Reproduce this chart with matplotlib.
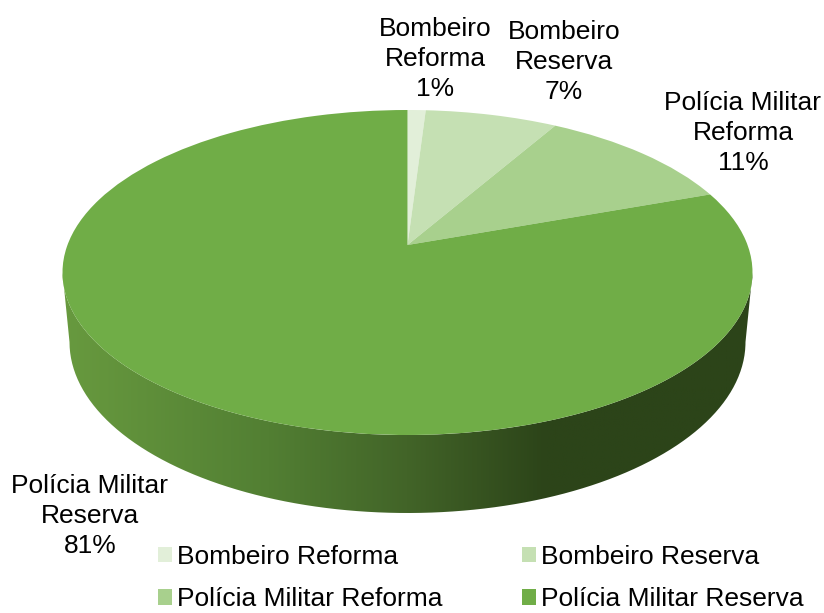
#!/usr/bin/env python
# Pie with a fake 3D look: ax.pie wedges pushed through a perspective transform,
# plus a gradient side wall clipped to the rim

import numpy as np
import matplotlib
matplotlib.use('Agg')
import matplotlib.pyplot as plt
from matplotlib.colors import LinearSegmentedColormap
from matplotlib.patches import PathPatch
from matplotlib.path import Path
from matplotlib.transforms import Transform

plt.rcParams['font.family'] = ['Liberation Sans', 'DejaVu Sans']

#-------------
# Data
#-------------
categories = ['Bombeiro Reforma', 'Bombeiro Reserva',
              'Polícia Militar Reforma', 'Polícia Militar Reserva']
# they round to the printed 1, 7, 11, 81
values = [1.0, 7.3, 11.2, 80.5]
slice_labels = ['Bombeiro\nReforma\n1%', 'Bombeiro\nReserva\n7%',
                'Polícia Militar\nReforma\n11%', 'Polícia Militar\nReserva\n81%']
slice_colors = ['#E2EFD9', '#C5E0B3', '#A8D08D', '#70AD47']

#-------------
# Layout (pixels of the 824x613 figure)
#-------------
cx = 407.5
cy = 272.5
half_h = 162.5
half_w = 345.0
apex_shift = 27.5
fsize = 19

label_xy = [(435, 59), (564, 62), (743, 133), (90, 516)]

# lower rim of the wall
wall_cy = 342.0
wall_rx = 338.0
wall_ry = 171.0


class TiltedDisc(Transform):
    # maps the unit circle to the top face ellipse, centre goes to the apex
    input_dims = 2
    output_dims = 2
    is_separable = False

    def transform_non_affine(self, values):
        xy = np.asarray(values, dtype=float)
        k = apex_shift / half_h
        a = half_w * np.sqrt(1 - k * k)
        den = 1 + k * xy[:, 1]
        return np.column_stack((cx + a * xy[:, 0] / den,
                                cy - (half_h * xy[:, 1] + apex_shift) / den))


fig = plt.figure(figsize=(8.24, 6.13), dpi=100)
ax = fig.add_axes([0, 0, 1, 1])

wedges, _ = ax.pie(values, colors=slice_colors, startangle=90, counterclock=False,
                   radius=1.0, wedgeprops={'linewidth': 0, 'zorder': 3})
ax.set_aspect('auto')
ax.axis('off')

disc = TiltedDisc() + ax.transData
for w in wedges:
    w.set_transform(disc)

# Side wall: gradient image clipped between top rim and lower rim
t = np.radians(np.linspace(0, 180, 200))
upper = np.column_stack((cx + half_w * np.cos(t), cy + half_h * np.sin(t)))
lower = np.column_stack((cx + wall_rx * np.cos(t), wall_cy + wall_ry * np.sin(t)))
wall_xy = np.vstack((upper, lower[::-1], upper[:1]))
wall = PathPatch(Path(wall_xy), facecolor='none', edgecolor='none', transform=ax.transData)
ax.add_patch(wall)

wall_cmap = LinearSegmentedColormap.from_list(
    'wall', [(0.0, '#689A3F'), (0.30, '#527F33'), (0.50, '#426428'),
             (0.70, '#2C4419'), (1.0, '#2C4419')])
img = ax.imshow(np.linspace(0, 1, 256).reshape(1, -1), cmap=wall_cmap, aspect='auto',
                extent=(60, 755, 520, 260), zorder=2)
img.set_clip_path(wall)
ax.set_xlim(0, 824)
ax.set_ylim(613, 0)

# Slice labels
for lab, (lx, ly) in zip(slice_labels, label_xy):
    ax.text(lx, ly, lab, ha='center', va='center', fontsize=fsize, color='black',
            linespacing=1.3, zorder=5)

# Legend, ncol fills by column so swap the middle two
order = [0, 2, 1, 3]
leg = ax.legend([wedges[i] for i in order], [categories[i] for i in order], ncol=2,
                loc='upper left', bbox_to_anchor=(158 / 824, 1 - 545 / 613),
                bbox_transform=fig.transFigure, frameon=False, fontsize=fsize,
                borderaxespad=0, borderpad=0, handlelength=0.53, handleheight=0.53,
                handletextpad=0.2, columnspacing=3.0, labelspacing=0.7)

plt.savefig('out.png', dpi=100)
plt.close()
